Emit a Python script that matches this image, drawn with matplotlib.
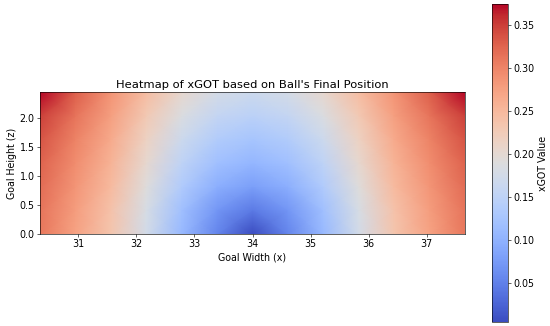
import numpy as np
import matplotlib
matplotlib.use('Agg')
import matplotlib.pyplot as plt

plt.rcParams['font.size'] = 12.5

# goal mouth sample points (metres)
goal_x = [30.34, 30.95, 31.56, 32.17, 32.78, 33.39, 34.00,
          34.61, 35.22, 35.83, 36.44, 37.05, 37.66]
goal_z = [0.0, 0.407, 0.813, 1.22, 1.627, 2.033, 2.44]

# xGOT, one row per height (bottom -> top)
xgot_z0 = [0.310, 0.275, 0.235, 0.175, 0.110, 0.055, 0.005, 0.055, 0.110, 0.175, 0.235, 0.275, 0.310]
xgot_z1 = [0.313, 0.279, 0.239, 0.181, 0.119, 0.071, 0.045, 0.071, 0.119, 0.181, 0.239, 0.279, 0.313]
xgot_z2 = [0.320, 0.286, 0.248, 0.192, 0.136, 0.097, 0.080, 0.097, 0.136, 0.192, 0.248, 0.286, 0.320]
xgot_z3 = [0.327, 0.294, 0.257, 0.204, 0.152, 0.118, 0.105, 0.118, 0.152, 0.204, 0.257, 0.294, 0.327]
xgot_z4 = [0.336, 0.302, 0.266, 0.216, 0.168, 0.137, 0.126, 0.137, 0.168, 0.216, 0.266, 0.302, 0.336]
xgot_z5 = [0.350, 0.313, 0.277, 0.230, 0.186, 0.158, 0.148, 0.158, 0.186, 0.230, 0.277, 0.313, 0.350]
xgot_z6 = [0.375, 0.330, 0.287, 0.245, 0.205, 0.178, 0.168, 0.178, 0.205, 0.245, 0.287, 0.330, 0.375]

grid = np.array([xgot_z0, xgot_z1, xgot_z2, xgot_z3, xgot_z4, xgot_z5, xgot_z6])

fig = plt.figure(figsize=(10, 326 / 55), dpi=55)
ax = fig.add_axes([40 / 550, (326 - 234) / 326, 425 / 550, 142 / 326])
cax = fig.add_axes([492 / 550, 4 / 326, 16 / 550, 318 / 326])

mesh = ax.pcolormesh(goal_x, goal_z, grid, cmap='coolwarm', shading='gouraud')
ax.set_aspect('equal')
ax.set_title("Heatmap of xGOT based on Ball's Final Position")
ax.set_xlabel('Goal Width (x)')
ax.set_ylabel('Goal Height (z)')

cb = fig.colorbar(mesh, cax=cax)
cb.set_label('xGOT Value')

fig.savefig('out.png', dpi=55)
